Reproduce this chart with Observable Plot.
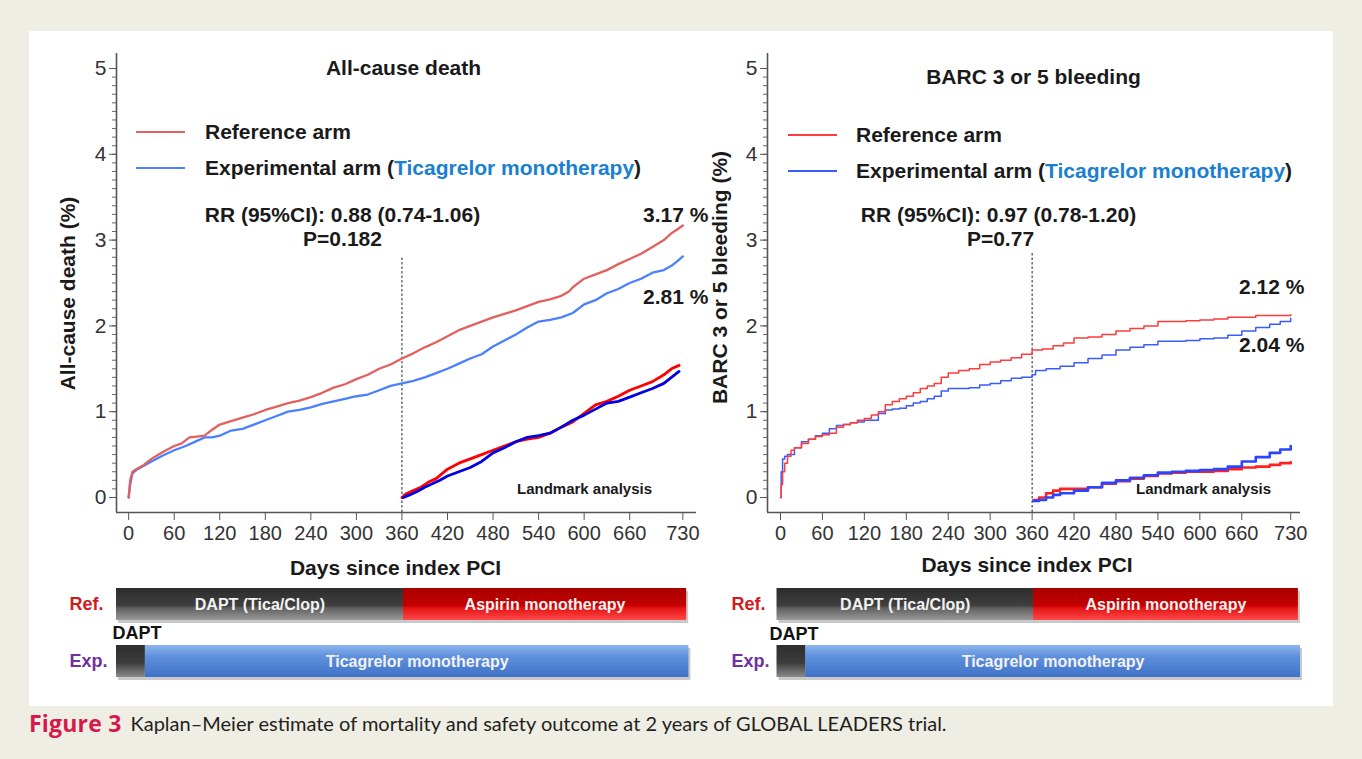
<!DOCTYPE html>
<html>
<head>
<meta charset="utf-8">
<script src="https://cdn.jsdelivr.net/npm/d3@7"></script>
<script src="https://cdn.jsdelivr.net/npm/@observablehq/plot@0.6"></script>
<style>
  html, body { margin: 0; padding: 0; }
  body { width: 1362px; height: 759px; position: relative; overflow: hidden; background: #efeee4;
         font-family: "Liberation Sans", Arial, sans-serif; }
  #panel { position: absolute; left: 29px; top: 31px; width: 1304px; height: 675px; background: #fff; }
  .abs { position: absolute; }
  .leg { position: absolute; display: flex; align-items: center; height: 26px;
         font: bold 21px "Liberation Sans", Arial, sans-serif; color: #1a1a1a; white-space: nowrap; }
  .leg .sw { display: inline-block; height: 2px; }
  #caption { position: absolute; left: 29px; top: 707px; height: 32px; display: flex; align-items: center; white-space: nowrap; }
  #caption .fig { font: bold 23px "Open Sans", "Lato", sans-serif; color: #d6194c; margin-right: 9px; letter-spacing: 0.2px; }
  #caption .txt { font: 20px "Lato", "Open Sans", sans-serif; color: #231f20; }
</style>
</head>
<body>
<div id="panel"></div>
<svg width="0" height="0" style="position:absolute">
  <defs>
    <linearGradient id="gGray" x1="0" y1="0" x2="0" y2="1">
      <stop offset="0" stop-color="#2c2c2c"/><stop offset="0.55" stop-color="#3f3f3f"/>
      <stop offset="0.62" stop-color="#5e5e5e"/><stop offset="1" stop-color="#9a9a9a"/>
    </linearGradient>
    <linearGradient id="gRed" x1="0" y1="0" x2="0" y2="1">
      <stop offset="0" stop-color="#a80000"/><stop offset="0.55" stop-color="#c40000"/>
      <stop offset="0.62" stop-color="#e41212"/><stop offset="1" stop-color="#ff4a4a"/>
    </linearGradient>
    <linearGradient id="gBlue" x1="0" y1="0" x2="0" y2="1">
      <stop offset="0" stop-color="#8fb6ee"/><stop offset="0.35" stop-color="#5f91dd"/>
      <stop offset="1" stop-color="#3f72c8"/>
    </linearGradient>
    <linearGradient id="gDark" x1="0" y1="0" x2="0" y2="1">
      <stop offset="0" stop-color="#2e2e2e"/><stop offset="0.55" stop-color="#3c3c3c"/>
      <stop offset="1" stop-color="#8a8a8a"/>
    </linearGradient>
  </defs>
</svg>
<div id="caption"><span class="fig">Figure 3</span><span class="txt">Kaplan–Meier estimate of mortality and safety outcome at 2 years of GLOBAL LEADERS trial.</span></div>

<script>
// ---------------- DATA ----------------
// Panel titles and labels
const panelTitles = ["All-cause death", "BARC 3 or 5 bleeding"];
const yAxisTitles = ["All-cause death (%)", "BARC 3 or 5 bleeding (%)"];
const xAxisTitle = "Days since index PCI";
const seriesNames = ["Reference arm", "Experimental arm ("];
const seriesHighlight = "Ticagrelor monotherapy";
const rrTexts = ["RR (95%CI): 0.88 (0.74-1.06)", "RR (95%CI): 0.97 (0.78-1.20)"];
const pTexts = ["P=0.182", "P=0.77"];
const finalRefLabels = ["3.17 %", "2.12 %"];
const finalExpLabels = ["2.81 %", "2.04 %"];
const landmarkLabel = "Landmark analysis";
const landmarkDay = 360;

// Axis ticks
const xTicks = [0, 60, 120, 180, 240, 300, 360, 420, 480, 540, 600, 660, 730];
const yTicks = [0, 1, 2, 3, 4, 5];
const yMinorTicks = d3.range(0, 51).map(i => i / 10);

// Left panel: all-cause death
const deathRefDays = [0,2,5,10,20,30,45,60,70,80,90,100,110,120,135,150,165,180,195,210,225,240,255,270,285,300,315,330,345,360,375,390,405,420,435,450,465,480,495,510,525,540,555,570,580,585,600,615,630,645,660,675,690,705,715,722,730];
const deathRefVals = [0,0.2,0.3,0.33,0.38,0.45,0.53,0.6,0.63,0.7,0.71,0.72,0.79,0.85,0.89,0.93,0.97,1.02,1.06,1.1,1.13,1.17,1.22,1.28,1.32,1.38,1.43,1.5,1.55,1.62,1.68,1.75,1.81,1.88,1.95,2.0,2.05,2.1,2.14,2.18,2.23,2.28,2.31,2.35,2.4,2.45,2.55,2.6,2.65,2.72,2.78,2.84,2.92,3.0,3.08,3.12,3.17];
const deathExpDays = [0,2,5,10,20,30,45,60,75,90,100,110,120,135,150,165,180,195,210,225,240,255,270,285,300,315,330,345,360,375,390,405,420,435,450,465,480,495,510,525,540,555,570,585,600,615,630,645,660,675,690,705,715,722,730];
const deathExpVals = [0,0.15,0.28,0.32,0.37,0.42,0.49,0.55,0.6,0.66,0.7,0.7,0.72,0.78,0.8,0.85,0.9,0.95,1.0,1.02,1.05,1.09,1.12,1.15,1.18,1.2,1.25,1.3,1.33,1.36,1.4,1.45,1.5,1.56,1.62,1.67,1.76,1.83,1.9,1.98,2.05,2.07,2.1,2.15,2.25,2.3,2.38,2.43,2.5,2.55,2.62,2.65,2.7,2.75,2.81];
const deathLmRefDays = [360,365,375,385,395,405,420,435,450,465,480,495,510,525,540,555,570,585,600,615,630,645,660,675,690,705,715,725];
const deathLmRefVals = [0,0.04,0.08,0.12,0.18,0.22,0.33,0.4,0.45,0.5,0.55,0.6,0.65,0.68,0.7,0.75,0.82,0.88,0.98,1.08,1.12,1.18,1.25,1.3,1.35,1.43,1.5,1.54];
const deathLmExpDays = [362,370,380,390,400,410,420,435,450,465,480,495,510,525,540,555,570,585,600,615,630,645,660,675,690,705,715,725];
const deathLmExpVals = [0,0.03,0.07,0.12,0.16,0.2,0.25,0.3,0.35,0.42,0.52,0.58,0.65,0.7,0.72,0.75,0.82,0.9,0.96,1.03,1.1,1.12,1.17,1.22,1.27,1.33,1.4,1.47];

// Right panel: BARC 3 or 5 bleeding
const bleedRefDays = [0,1,3,6,10,15,20,30,40,50,60,70,80,90,100,110,120,130,140,150,160,170,180,190,200,210,220,230,240,255,270,285,300,315,330,345,360,375,390,405,420,440,460,480,500,520,540,560,580,600,620,640,660,680,700,730];
const bleedRefVals = [0,0.15,0.3,0.4,0.48,0.55,0.58,0.63,0.68,0.71,0.73,0.75,0.82,0.85,0.87,0.9,0.92,0.96,1.0,1.08,1.12,1.15,1.18,1.22,1.27,1.3,1.33,1.4,1.45,1.48,1.5,1.55,1.58,1.6,1.63,1.67,1.72,1.73,1.77,1.8,1.86,1.87,1.9,1.94,1.97,2.0,2.05,2.05,2.06,2.07,2.08,2.1,2.1,2.12,2.12,2.13];
const bleedExpDays = [0,1,3,6,10,20,30,40,50,60,70,80,90,100,110,120,130,140,150,160,170,180,190,200,210,220,230,240,255,270,285,300,315,330,345,360,365,380,400,420,440,460,480,500,520,540,560,580,600,620,640,660,680,700,715,730];
const bleedExpVals = [0,0.3,0.45,0.48,0.5,0.58,0.65,0.68,0.72,0.75,0.8,0.84,0.85,0.87,0.88,0.9,0.9,0.98,1.02,1.03,1.04,1.07,1.1,1.12,1.15,1.18,1.24,1.27,1.27,1.28,1.31,1.33,1.36,1.39,1.4,1.43,1.48,1.5,1.53,1.57,1.62,1.66,1.72,1.75,1.78,1.82,1.82,1.83,1.85,1.86,1.89,1.94,1.98,2.02,2.05,2.09];
const bleedLmDays = [362,370,380,390,400,420,440,460,480,500,520,540,560,580,600,620,640,660,680,700,715,730];
const bleedLmRefVals = [-0.03,0.0,0.05,0.08,0.1,0.1,0.12,0.16,0.19,0.22,0.25,0.28,0.29,0.3,0.3,0.31,0.33,0.35,0.36,0.38,0.4,0.41];
const bleedLmExpVals = [-0.04,-0.03,0.0,0.03,0.05,0.08,0.12,0.17,0.2,0.23,0.26,0.29,0.3,0.31,0.32,0.33,0.36,0.42,0.47,0.52,0.56,0.6];

// Treatment timeline bars (days)
const rowLabels = ["Ref.", "Exp."];
const dualLabel = "DAPT";
const deathTimeline = [
  {row: "Ref.", start: -16, end: 362, label: "DAPT (Tica/Clop)", kind: "gray"},
  {row: "Ref.", start: 362, end: 735, label: "Aspirin monotherapy", kind: "red"},
  {row: "Exp.", start: -16, end: 22, label: "", kind: "dark"},
  {row: "Exp.", start: 22, end: 738, label: "Ticagrelor monotherapy", kind: "blue"}
];
const bleedTimeline = [
  {row: "Ref.", start: -5, end: 362, label: "DAPT (Tica/Clop)", kind: "gray"},
  {row: "Ref.", start: 362, end: 741, label: "Aspirin monotherapy", kind: "red"},
  {row: "Exp.", start: -5, end: 36, label: "", kind: "dark"},
  {row: "Exp.", start: 36, end: 744, label: "Ticagrelor monotherapy", kind: "blue"}
];

// ---------------- BUILD ----------------
const toRows = (days, vals) => days.map((d, i) => ({day: d, value: vals[i]}));
const FONT = '"Liberation Sans", Arial, sans-serif';
const INK = "#1a1a1a";

const panels = [
  {
    left: 28, width: 690, ml: 88, mr: 22, xDomain: [-16, 748],
    ref: toRows(deathRefDays, deathRefVals), exp: toRows(deathExpDays, deathExpVals),
    lmRef: toRows(deathLmRefDays, deathLmRefVals), lmExp: toRows(deathLmExpDays, deathLmExpVals),
    refColor: "#e2615f", expColor: "#4a80ff", sw: 2.3, curve: "linear",
    lmRefColor: "#ff0000", lmExpColor: "#0000e0", lmSw: 2.8,
    dashTop: 2.79,
    pos: {title: [287, 0], rr: [226, 147], p: [226, 171], fr: [592, 147], fe: [592, 229], lm: [468, 421],
          ylab: [-48, 3], xlab: [-11, 56], rowLab: -47, dapt: [-4, -28.5]},
    timeline: deathTimeline,
    legend: {swX: 136, swW: 49, gap: 20, y: [132, 168]}
  },
  {
    left: 700, width: 620, ml: 67, mr: 20, xDomain: [-18.6, 744],
    ref: toRows(bleedRefDays, bleedRefVals), exp: toRows(bleedExpDays, bleedExpVals),
    lmRef: toRows(bleedLmDays, bleedLmRefVals), lmExp: toRows(bleedLmDays, bleedLmExpVals),
    refColor: "#ff3b3b", expColor: "#3a5cff", sw: 1.5, curve: "step-after",
    lmRefColor: "#ff2020", lmExpColor: "#2a45ff", lmSw: 2.6,
    dashTop: 2.86,
    pos: {title: [266, 9], rr: [231, 147], p: [233, 171], fr: [537, 219], fe: [537, 277], lm: [436, 421],
          ylab: [-47, -13], xlab: [-7, 53], rowLab: -36, dapt: [2, -27.5]},
    timeline: bleedTimeline,
    legend: {swX: 788, swW: 49, gap: 19, y: [135, 171]}
  }
];

const yBottom = -0.175;

panels.forEach((P, idx) => {
  const x0 = P.xDomain[0], x1 = P.xDomain[1];
  const txt = (s, o) => Plot.text([s], {text: d => d, frameAnchor: "top-left", fill: INK, fontWeight: "bold",
                                           fontSize: 21, lineAnchor: "middle", ...o});
  const main = Plot.plot({
    width: P.width, height: 545,
    marginLeft: P.ml, marginRight: P.mr, marginTop: 28, marginBottom: 73,
    x: {domain: P.xDomain},
    y: {domain: [yBottom, 5]},
    style: {fontFamily: FONT, color: INK, background: "transparent", overflow: "visible"},
    marks: [
      Plot.ruleX([x0], {y1: yBottom, y2: 5.175, stroke: "#555", strokeWidth: 1.6}),
      Plot.ruleY([yBottom], {x1: x0, x2: x1, stroke: "#555", strokeWidth: 1.6}),
      Plot.axisY({ticks: yMinorTicks, tickSize: 4, tickFormat: () => "", label: null, stroke: "#666"}),
      Plot.axisY({ticks: yTicks, tickSize: 7, tickPadding: 3, tickFormat: "d", fontSize: 21, label: null, stroke: "#555", fill: "#333"}),
      Plot.axisX({ticks: xTicks, tickSize: 8, tickPadding: 5, tickFormat: "d", fontSize: 20, label: null, stroke: "#555", fill: "#333"}),
      Plot.ruleX([landmarkDay], {y1: yBottom, y2: P.dashTop, stroke: "#222", strokeWidth: 1, strokeDasharray: "2.5,2"}),
      Plot.line(P.exp, {x: "day", y: "value", stroke: P.expColor, strokeWidth: P.sw, curve: P.curve}),
      Plot.line(P.ref, {x: "day", y: "value", stroke: P.refColor, strokeWidth: P.sw, curve: P.curve}),
      Plot.line(P.lmRef, {x: "day", y: "value", stroke: P.lmRefColor, strokeWidth: P.lmSw, curve: P.curve}),
      Plot.line(P.lmExp, {x: "day", y: "value", stroke: P.lmExpColor, strokeWidth: P.lmSw, curve: P.curve}),
      txt(panelTitles[idx], {textAnchor: "middle", dx: P.pos.title[0], dy: P.pos.title[1]}),
      txt(rrTexts[idx], {textAnchor: "middle", dx: P.pos.rr[0], dy: P.pos.rr[1]}),
      txt(pTexts[idx], {textAnchor: "middle", dx: P.pos.p[0], dy: P.pos.p[1]}),
      txt(finalRefLabels[idx], {textAnchor: "end", dx: P.pos.fr[0], dy: P.pos.fr[1]}),
      txt(finalExpLabels[idx], {textAnchor: "end", dx: P.pos.fe[0], dy: P.pos.fe[1]}),
      txt(landmarkLabel, {textAnchor: "middle", fontSize: 15, dx: P.pos.lm[0], dy: P.pos.lm[1]}),
      Plot.text([yAxisTitles[idx]], {text: d => d, frameAnchor: "left", rotate: -90, fill: INK, fontWeight: "bold",
                 fontSize: 21, textAnchor: "middle", lineAnchor: "middle", dx: P.pos.ylab[0], dy: P.pos.ylab[1]}),
      Plot.text([xAxisTitle], {text: d => d, frameAnchor: "bottom", fill: INK, fontWeight: "bold",
                 fontSize: 21, textAnchor: "middle", lineAnchor: "middle", dx: P.pos.xlab[0], dy: P.pos.xlab[1]})
    ]
  });
  main.classList.add("abs");
  main.style.left = P.left + "px";
  main.style.top = "40px";
  document.body.appendChild(main);

  // timeline bars
  const grads = {gray: "url(#gGray)", red: "url(#gRed)", blue: "url(#gBlue)", dark: "url(#gDark)"};
  const labelled = P.timeline.filter(d => d.label);
  const bars = Plot.plot({
    width: P.width, height: 110,
    marginLeft: P.ml, marginRight: P.mr, marginTop: 8, marginBottom: 13,
    x: {domain: P.xDomain, axis: null},
    y: {domain: rowLabels, paddingInner: 0.44, paddingOuter: 0, axis: null},
    style: {fontFamily: FONT, background: "transparent", overflow: "visible"},
    marks: [
      Plot.barX(P.timeline, {x1: "start", x2: "end", y: "row", fill: "#c9c9c9", dx: 2, dy: 3}),
      ...Object.keys(grads).map(k => Plot.barX(P.timeline.filter(d => d.kind === k),
          {x1: "start", x2: "end", y: "row", fill: grads[k]})),
      Plot.text(labelled, {x: d => (d.start + d.end) / 2, y: "row", text: "label", fill: "#f2f2f2",
          fontSize: 16, fontWeight: "bold"}),
      Plot.text(rowLabels, {x: () => x0, y: d => d, text: d => d, textAnchor: "start", dx: P.pos.rowLab,
          fill: d => d === "Ref." ? "#d11a1a" : "#7030a0", fontSize: 18, fontWeight: "bold"}),
      Plot.text([dualLabel], {x: () => x0, y: () => "Exp.", text: d => d, textAnchor: "start",
          dx: P.pos.dapt[0], dy: P.pos.dapt[1], fill: "#111", fontSize: 18, fontWeight: "bold"})
    ]
  });
  bars.classList.add("abs");
  bars.style.left = P.left + "px";
  bars.style.top = "580px";
  document.body.appendChild(bars);

  // legend
  const colors = [P.refColor, P.expColor];
  seriesNames.forEach((name, i) => {
    const div = document.createElement("div");
    div.className = "leg";
    div.style.left = P.legend.swX + "px";
    div.style.top = (P.legend.y[i] - 13) + "px";
    const sw = document.createElement("span");
    sw.className = "sw";
    sw.style.width = P.legend.swW + "px";
    sw.style.background = colors[i];
    sw.style.marginRight = P.legend.gap + "px";
    div.appendChild(sw);
    const t = document.createElement("span");
    t.textContent = name;
    div.appendChild(t);
    if (i === 1) {
      const h = document.createElement("span");
      h.textContent = seriesHighlight;
      h.style.color = "#1b7fd1";
      div.appendChild(h);
      const c = document.createElement("span");
      c.textContent = ")";
      div.appendChild(c);
    }
    document.body.appendChild(div);
  });
});
</script>
</body>
</html>
